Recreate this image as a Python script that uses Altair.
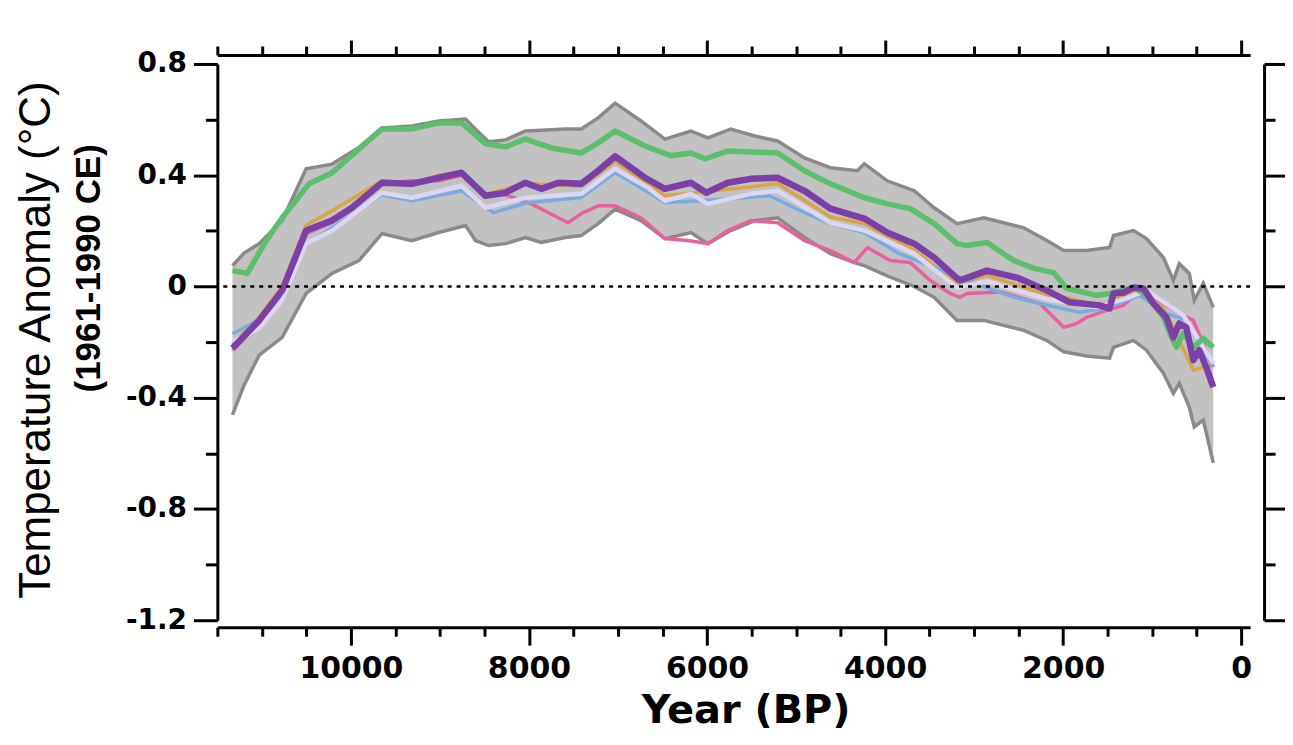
import altair as alt
import pandas as pd

# ---------------- data ----------------
# Uncertainty envelope (years BP, upper and lower edge, deg C)
band_year = [11330, 11200, 11030, 10772, 10503, 10212, 9910, 9652, 9316, 9014,
             8712, 8600, 8454, 8264, 8040, 7861, 7592, 7413, 7223, 7032,
             6741, 6473, 6181, 5991, 5734, 5465, 5207, 4905, 4614, 4312,
             4233, 3976, 3673, 3449, 3192, 2890, 2442, 2184, 1994, 1736,
             1479, 1434, 1210, 1064, 874, 762, 695, 583, 527, 426, 314]
band_hi = [0.075, 0.12, 0.154, 0.237, 0.423, 0.44, 0.50, 0.570, 0.577, 0.595,
           0.602, 0.565, 0.52, 0.527, 0.559, 0.562, 0.566, 0.566, 0.606, 0.659,
           0.595, 0.530, 0.559, 0.534, 0.566, 0.541, 0.523, 0.462, 0.427, 0.416,
           0.441, 0.380, 0.344, 0.283, 0.226, 0.247, 0.211, 0.165, 0.129, 0.129,
           0.140, 0.183, 0.201, 0.172, 0.104, 0.022, 0.082, 0.047, -0.050, 0.011, -0.075]
band_lo = [-0.462, -0.355, -0.247, -0.183, -0.025, 0.047, 0.093, 0.190, 0.165, 0.194,
           0.219, 0.165, 0.147, 0.154, 0.176, 0.158, 0.176, 0.183, 0.226, 0.278,
           0.237, 0.172, 0.194, 0.154, 0.201, 0.237, 0.247, 0.176, 0.118, 0.082,
           0.075, 0.038, 0.0, -0.039, -0.122, -0.122, -0.158, -0.194, -0.235, -0.25,
           -0.258, -0.219, -0.194, -0.229, -0.312, -0.384, -0.348, -0.434, -0.505, -0.480, -0.634]

green_year = [11330, 11164, 10951, 10772, 10470, 10212, 10022, 9652, 9316, 9014,
              8757, 8488, 8264, 8040, 7749, 7413, 7223, 7032, 6697, 6405,
              6181, 6025, 5767, 5207, 4905, 4614, 4233, 3976, 3718, 3449,
              3192, 3080, 2856, 2554, 2330, 2106, 1960, 1624, 1479, 1210,
              1064, 874, 800, 728, 650, 538, 426, 314]
green_val = [0.057, 0.047, 0.165, 0.247, 0.369, 0.409, 0.462, 0.566, 0.566, 0.588,
             0.588, 0.513, 0.502, 0.530, 0.498, 0.480, 0.516, 0.559, 0.505, 0.470,
             0.480, 0.459, 0.487, 0.480, 0.416, 0.369, 0.319, 0.297, 0.280, 0.226,
             0.154, 0.147, 0.158, 0.093, 0.065, 0.050, -0.007, -0.032, -0.025, -0.004,
             -0.03, -0.11, -0.17, -0.219, -0.168, -0.219, -0.186, -0.219]

purple_year = [11330, 11030, 10772, 10503, 10212, 9988, 9652, 9316, 9014, 8757,
               8488, 8264, 8040, 7861, 7671, 7413, 7223, 7030, 6697, 6473,
               6181, 6008, 5767, 5510, 5207, 4905, 4614, 4233, 3976, 3673,
               3449, 3192, 3158, 2856, 2520, 2184, 1927, 1591, 1479, 1434,
               1322, 1210, 1098, 986, 841, 762, 695, 617, 538, 471, 393, 314]
purple_val = [-0.222, -0.122, -0.014, 0.201, 0.237, 0.283, 0.373, 0.369, 0.391, 0.409,
              0.326, 0.337, 0.373, 0.351, 0.373, 0.369, 0.416, 0.468, 0.391, 0.351,
              0.373, 0.337, 0.373, 0.387, 0.391, 0.344, 0.280, 0.244, 0.194, 0.154,
              0.104, 0.029, 0.022, 0.057, 0.032, -0.014, -0.057, -0.068, -0.079, -0.025,
              -0.022, -0.004, -0.007, -0.061, -0.111, -0.183, -0.133, -0.147, -0.265, -0.229,
              -0.290, -0.362]

lav_year = [11330, 11030, 10772, 10503, 10212, 9652, 9316, 8757, 8488, 8040,
            7413, 7032, 6663, 6473, 6181, 5991, 5510, 5207, 4614, 4233,
            3673, 3192, 2856, 2184, 1624, 1288, 1064, 650, 314]
lav_val = [-0.20, -0.15, -0.05, 0.154, 0.20, 0.337, 0.319, 0.362, 0.283, 0.319,
           0.333, 0.423, 0.355, 0.308, 0.333, 0.297, 0.333, 0.344, 0.229, 0.201,
           0.118, -0.004, 0.018, -0.045, -0.075, -0.043, -0.014, -0.104, -0.276]

blue_year = [11330, 11030, 10772, 10503, 9652, 9316, 8757, 8400, 8040, 7413,
             7032, 6741, 6473, 5734, 5300, 4905, 4614, 4233, 3864, 3449,
             2856, 2554, 2330, 2072, 1815, 1546, 1288, 1143, 841, 617, 314]
blue_val = [-0.17, -0.12, -0.04, 0.15, 0.33, 0.308, 0.344, 0.265, 0.30, 0.32,
            0.409, 0.355, 0.301, 0.315, 0.326, 0.265, 0.226, 0.194, 0.122, 0.068,
            -0.004, -0.039, -0.057, -0.075, -0.093, -0.079, -0.050, -0.032, -0.097, -0.12, -0.29]

pink_year = [11330, 11030, 10772, 10503, 10212, 9652, 9316, 9014, 8757, 8488,
             8264, 7973, 7671, 7559, 7413, 7223, 7032, 6741, 6473, 6215,
             5991, 5767, 5510, 5207, 4905, 4614, 4345, 4200, 3942, 3718,
             3494, 3270, 3158, 3080, 2700, 2262, 2106, 1994, 1848, 1736,
             1512, 1322, 1176, 986, 695, 538, 314]
pink_val = [-0.23, -0.13, -0.02, 0.19, 0.23, 0.37, 0.38, 0.38, 0.40, 0.33,
            0.33, 0.297, 0.247, 0.229, 0.262, 0.290, 0.290, 0.247, 0.172, 0.165,
            0.154, 0.201, 0.237, 0.229, 0.165, 0.129, 0.086, 0.140, 0.093, 0.086,
            0.022, -0.025, -0.039, -0.025, -0.02, -0.061, -0.111, -0.147, -0.133, -0.111,
            -0.086, -0.068, -0.025, -0.039, -0.097, -0.122, -0.290]

orange_year = [11330, 11030, 10772, 10503, 10212, 9652, 9316, 9014, 8757, 8488,
               8040, 7413, 7032, 6473, 5600, 5207, 4614, 4233, 3673, 3192,
               2856, 2184, 1960, 1591, 1210, 874, 538, 314]
orange_val = [-0.21, -0.11, 0.0, 0.22, 0.272, 0.38, 0.37, 0.40, 0.41, 0.33,
              0.37, 0.36, 0.45, 0.326, 0.355, 0.37, 0.25, 0.226, 0.13, 0.01,
              0.04, -0.03, -0.04, -0.07, -0.02, -0.075, -0.301, -0.28]

# axes
x_domain = [-100, 11500]
y_domain = [-1.2, 0.8]
x_ticks = [0, 500, 1000, 1500, 2000, 2500, 3000, 3500, 4000, 4500, 5000, 5500,
           6000, 6500, 7000, 7500, 8000, 8500, 9000, 9500, 10000, 10500, 11000, 11500]
y_ticks = [-1.2, -1.0, -0.8, -0.6, -0.4, -0.2, 0.0, 0.2, 0.4, 0.6, 0.8]
y_title_lines = ["Temperature Anomaly (\u00b0C)", "(1961-1990 CE)"]
x_title = "Year (BP)"

# ---------------- chart ----------------
LBL_FONT = "DejaVu Sans"
TTL_FONT = "Liberation Sans"
xs = alt.Scale(domain=x_domain, reverse=True, nice=False, zero=False)
ys = alt.Scale(domain=y_domain, nice=False, zero=False)

x_major = "datum.value % 2000 === 0"
y_major = "abs(round(datum.value * 10)) % 4 === 0"

common = dict(grid=False, domainColor="black", domainWidth=3, tickColor="black",
              tickWidth=3, labelOverlap=False, labelFlush=False)

axis_bottom = alt.Axis(
    orient="bottom", values=x_ticks, offset=7,
    tickSize={"condition": {"test": x_major, "value": 18}, "value": 9},
    labelExpr=f"{x_major} ? format(datum.value, 'd') : ''",
    labelFont=LBL_FONT, labelFontSize=30, labelFontWeight="bold", labelColor="black",
    labelPadding=8,
    title=x_title, titleFont=LBL_FONT, titleFontSize=40, titleFontWeight="bold",
    titleColor="black", titleX=530, titleY=96, titleBaseline="alphabetic",
    titleAlign="center", **common)
axis_top = alt.Axis(
    orient="top", values=x_ticks, offset=9, labels=False, title=None,
    tickSize={"condition": {"test": x_major, "value": 15}, "value": 9}, **common)
axis_left = alt.Axis(
    orient="left", values=y_ticks, offset=0,
    tickSize={"condition": {"test": y_major, "value": 24}, "value": 12},
    labelExpr=f"{y_major} ? (datum.value === 0 ? '0' : toString(round(datum.value * 10) / 10)) : ''",
    labelFont=LBL_FONT, labelFontSize=28, labelFontWeight="bold", labelColor="black",
    labelPadding=7, title=None, **common)
axis_right = alt.Axis(
    orient="right", values=y_ticks, offset=14, labels=False, title=None,
    tickSize={"condition": {"test": y_major, "value": 22}, "value": 11}, **common)

band_df = pd.DataFrame({"year": band_year, "hi": band_hi, "lo": band_lo})

band_area = alt.Chart(band_df).mark_area(color="#c2c2c2", opacity=1).encode(
    x=alt.X("year:Q", scale=xs, axis=axis_bottom),
    y=alt.Y("lo:Q", scale=ys, axis=axis_left),
    y2="hi:Q",
)
band_hi_line = alt.Chart(band_df).mark_line(color="#8a8a8a", strokeWidth=3.5).encode(
    x=alt.X("year:Q", scale=xs, axis=axis_top),
    y=alt.Y("hi:Q", scale=ys, axis=axis_right),
)
band_lo_line = alt.Chart(band_df).mark_line(color="#8a8a8a", strokeWidth=3.5).encode(
    x=alt.X("year:Q", scale=xs, axis=None),
    y=alt.Y("lo:Q", scale=ys, axis=None),
)


def series(years, vals, color, width):
    df = pd.DataFrame({"year": years, "t": vals})
    return alt.Chart(df).mark_line(color=color, strokeWidth=width, strokeJoin="round").encode(
        x=alt.X("year:Q", scale=xs, axis=None),
        y=alt.Y("t:Q", scale=ys, axis=None),
    )


pink = series(pink_year, pink_val, "#e8619f", 3.5)
orange = series(orange_year, orange_val, "#dba443", 3.5)
blue = series(blue_year, blue_val, "#77abe2", 3.5)
lav = series(lav_year, lav_val, "#dcd8f3", 4.5)
green = series(green_year, green_val, "#5cbf6b", 5.5)
purple = series(purple_year, purple_val, "#7b3fa7", 6.5)

zero = alt.Chart(pd.DataFrame({"z": [0.0]})).mark_rule(
    color="black", strokeDash=[4, 5], strokeWidth=2.5).encode(
    y=alt.Y("z:Q", scale=ys, axis=None))

t1 = alt.Chart(pd.DataFrame({"s": [y_title_lines[0]]})).mark_text(
    angle=270, font=TTL_FONT, fontSize=44, align="center", baseline="alphabetic",
    color="black").encode(x=alt.value(-168), y=alt.value(277), text="s:N")
t2 = alt.Chart(pd.DataFrame({"s": [y_title_lines[1]]})).mark_text(
    angle=270, font=TTL_FONT, fontSize=35, fontWeight="bold", align="center",
    baseline="alphabetic", color="black").encode(
    x=alt.value(-118), y=alt.value(205), text="s:N")

chart = alt.layer(
    band_area, band_hi_line, band_lo_line,
    pink, orange, blue, lav, green, purple, zero, t1, t2,
).resolve_axis(x="independent", y="independent").properties(
    width=1036, height=558,
    padding={"left": 210, "top": 55, "right": 35, "bottom": 115},
    autosize=alt.AutoSizeParams(type="none"),
    background="white",
).configure_view(stroke=None)

chart.save("out.html", embed_options={"renderer": "svg", "actions": False})
